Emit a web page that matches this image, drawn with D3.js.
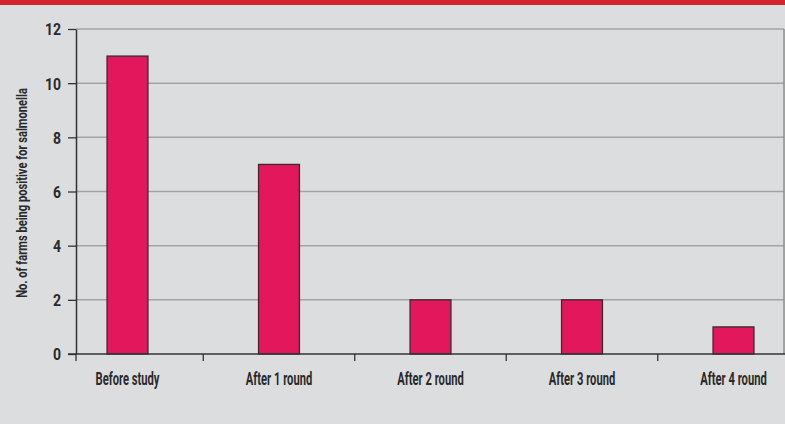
<!DOCTYPE html>
<html><head><meta charset="utf-8">
<script src="https://cdn.jsdelivr.net/npm/d3@7"></script>
<style>
html,body{margin:0;padding:0;background:#dcdddf;}
svg{display:block;}
text{font-family:Roboto,"Noto Sans",sans-serif;font-weight:700;fill:#2a2a2a;}
</style></head>
<body>
<svg id="c" width="785" height="424"></svg>
<script>
const categories = ["Before study","After 1 round","After 2 round","After 3 round","After 4 round"];
const values = [11, 7, 2, 2, 1];
const yTicks = [0, 2, 4, 6, 8, 10, 12];
const yLabel = "No. of farms being positive for salmonella";

const W = 785, H = 424;
const svg = d3.select("#c");

// condense factor: measured so the font matches the reference's narrow face
const probe = svg.append("text").attr("font-size", 17.5).text(categories[0]);
const SX = 64 / probe.node().getComputedTextLength();
probe.remove();

svg.append("rect").attr("width", W).attr("height", H).attr("fill", "#dcdddf");
svg.append("rect").attr("width", W).attr("height", 5).attr("fill", "#d3232b");

const plotL = 76, plotR = 784, plotT = 29, plotB = 354;
const y = d3.scaleLinear().domain([0, 12]).range([plotB, plotT]);
const x = d3.scaleBand().domain(categories).range([51.75, 809.25]).paddingInner(0.73).paddingOuter(0.365);

// gridlines
svg.append("g").selectAll("line").data(yTicks.filter(d => d > 0)).join("line")
  .attr("x1", plotL).attr("x2", plotR).attr("y1", d => y(d)).attr("y2", d => y(d))
  .attr("stroke", "#a3a3a3").attr("stroke-width", 1.5);
// right border
svg.append("line").attr("x1", plotR).attr("x2", plotR).attr("y1", y(12)).attr("y2", y(0))
  .attr("stroke", "#8c8c8c").attr("stroke-width", 1.5);

// bars
svg.append("g").selectAll("rect").data(values).join("rect")
  .attr("x", (d, i) => x(categories[i]))
  .attr("width", x.bandwidth())
  .attr("y", d => y(d))
  .attr("height", d => y(0) - y(d))
  .attr("fill", "#e3175b").attr("stroke", "#3a2a2e").attr("stroke-width", 1.3);

// y axis
const TX = 0.85;
const ya = svg.append("g").attr("transform", `translate(${plotL},0)`)
  .call(d3.axisLeft(y).tickValues(yTicks).tickSize(8).tickPadding(14).tickSizeOuter(0));
ya.select(".domain").attr("stroke", "#333").attr("stroke-width", 1.5);
ya.selectAll(".tick line").attr("stroke", "#333").attr("stroke-width", 1.3);
ya.selectAll(".tick text").attr("font-size", 16.5).attr("fill", "#2a2a2a")
  .style("font-family", "Roboto, sans-serif")
  .attr("transform", `scale(${TX},1)`)
  .attr("x", -15 / TX).attr("dy", "0.36em");

// x axis
const step = x.step();
const bounds = categories.slice(0, -1).map(c => x(c) + x.bandwidth() / 2 + step / 2);
const xg = svg.append("g");
xg.append("line").attr("x1", 68).attr("x2", W).attr("y1", plotB).attr("y2", plotB)
  .attr("stroke", "#333").attr("stroke-width", 1.5);
xg.selectAll("line.t").data([plotL, ...bounds]).join("line").attr("class", "t")
  .attr("x1", d => d).attr("x2", d => d).attr("y1", plotB).attr("y2", plotB + 7)
  .attr("stroke", "#333").attr("stroke-width", 1.3);
xg.selectAll("text").data(categories).join("text")
  .attr("transform", d => `translate(${x(d) + x.bandwidth() / 2},384.5) scale(${SX},1)`)
  .attr("text-anchor", "middle").attr("font-size", 17.5).text(d => d);

// y label
const yl = svg.append("text").attr("font-size", 14.5).text(yLabel);
const SY = 210 / yl.node().getComputedTextLength();
yl.attr("transform", `translate(27,193) rotate(-90) scale(${SY},1)`)
  .attr("text-anchor", "middle");
</script>
</body></html>
